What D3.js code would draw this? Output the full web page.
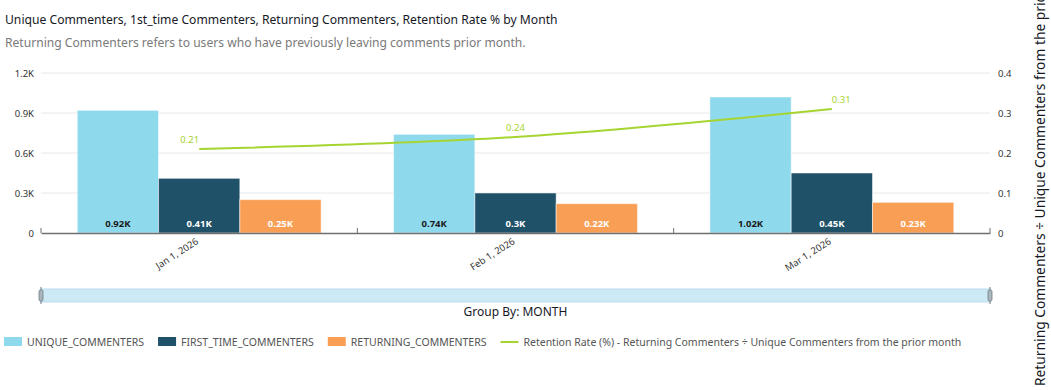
<!DOCTYPE html>
<html>
<head>
<meta charset="utf-8">
<script src="https://cdn.jsdelivr.net/npm/d3@7"></script>
<style>
  html, body { margin: 0; padding: 0; background: #fff; overflow: hidden; }
  svg { display: block; font-family: "Noto Sans", "Open Sans", sans-serif; }
</style>
</head>
<body>
<svg id="chart" width="1051" height="390"></svg>
<script>
// ---- data ----
const months = ["Jan 1, 2026", "Feb 1, 2026", "Mar 1, 2026"];
const seriesNames = ["UNIQUE_COMMENTERS", "FIRST_TIME_COMMENTERS", "RETURNING_COMMENTERS"];
const uniqueCommenters = [920, 740, 1020];
const firstTimeCommenters = [410, 300, 450];
const returningCommenters = [250, 220, 230];
const retentionRate = [0.21, 0.24, 0.31];
const leftTicks = [0, 300, 600, 900, 1200];
const rightTicks = [0, 0.1, 0.2, 0.3, 0.4];
const lineName = "Retention Rate (%) - Returning Commenters \u00F7 Unique Commenters from the prior month";
const rightAxisTitle = "Returning Commenters \u00F7 Unique Commenters from the prior month";
const title = "Unique Commenters, 1st_time Commenters, Returning Commenters, Retention Rate % by Month";
const subtitle = "Returning Commenters refers to users who have previously leaving comments prior month.";

const barColors = ["#8fd9ed", "#1f5169", "#f99e55"];
const barLabelColors = ["#1a1a1a", "#ffffff", "#ffffff"];
const lineColor = "#a6d531";

const seriesValues = [uniqueCommenters, firstTimeCommenters, returningCommenters];

// ---- layout ----
const svg = d3.select("#chart");
const L = 41, R = 990, T = 73, B = 233;

const x0 = d3.scaleBand().domain(months).range([L, R]).padding(0);
const bw = x0.bandwidth();
const x1 = d3.scaleBand().domain(seriesNames).range([bw * 0.1145, bw * (1 - 0.1145)]).padding(0);
const yL = d3.scaleLinear().domain([0, 1200]).range([B, T]);
const yR = d3.scaleLinear().domain([0, 0.4]).range([B, T]);

// title
svg.append("text").attr("x", 5).attr("y", 24)
  .attr("font-size", 12.15).attr("fill", "#16191f").text(title);
svg.append("text").attr("x", 5).attr("y", 47)
  .attr("font-size", 12.1).attr("fill", "#7a7a7a").text(subtitle);

// gridlines
svg.append("g").selectAll("line").data(leftTicks.slice(1)).join("line")
  .attr("x1", L).attr("x2", R)
  .attr("y1", d => yL(d)).attr("y2", d => yL(d))
  .attr("stroke", "#e8e8e8").attr("stroke-width", 1);

// left axis
const fmtK = d => d === 0 ? "0" : (d / 1000).toFixed(1) + "K";
const gL = svg.append("g").attr("transform", `translate(${L},0)`)
  .call(d3.axisLeft(yL).tickValues(leftTicks).tickFormat(fmtK).tickSize(0).tickPadding(7));
gL.select(".domain").remove();
gL.selectAll("text").attr("font-size", 9.5).attr("fill", "#333").attr("font-family", "Noto Sans, sans-serif");

// right axis
const gR = svg.append("g").attr("transform", `translate(${R},0)`)
  .call(d3.axisRight(yR).tickValues(rightTicks).tickFormat(d => d === 0 ? "0" : d3.format(".1f")(d)).tickSize(0).tickPadding(8));
gR.select(".domain").remove();
gR.selectAll("text").attr("font-size", 9.5).attr("fill", "#333").attr("font-family", "Noto Sans, sans-serif");

// bars
const groups = svg.append("g").selectAll("g").data(months).join("g")
  .attr("transform", d => `translate(${x0(d)},0)`);
groups.each(function(m, i) {
  const g = d3.select(this);
  seriesNames.forEach((s, j) => {
    const v = seriesValues[j][i];
    g.append("rect")
      .attr("x", x1(s)).attr("width", x1.bandwidth())
      .attr("y", yL(v)).attr("height", B - yL(v))
      .attr("fill", barColors[j])
      .attr("stroke", "rgba(255,255,255,0.5)").attr("stroke-width", 1);
    g.append("text")
      .attr("x", x1(s) + x1.bandwidth() / 2).attr("y", B - 6)
      .attr("text-anchor", "middle").attr("font-size", 9.5).attr("font-weight", "bold")
      .attr("fill", barLabelColors[j])
      .text((v / 1000).toFixed(2).replace(/0$/, "") + "K");
  });
});

// x axis baseline and ticks
const gX = svg.append("g").attr("transform", `translate(0,${B})`)
  .call(d3.axisBottom(x0).tickSize(0).tickFormat(""));
gX.select(".domain").attr("stroke", "#6f6f6f").attr("stroke-width", 1.5);
const boundaries = months.map(m => x0(m)).concat([R]);
svg.append("g").selectAll("line").data(boundaries).join("line")
  .attr("x1", d => d).attr("x2", d => d).attr("y1", B - 5).attr("y2", B)
  .attr("stroke", "#6f6f6f").attr("stroke-width", 1);
// x labels rotated
svg.append("g").selectAll("text").data(months).join("text")
  .attr("transform", d => `translate(${x0(d) + bw / 2},${B + 10}) rotate(-33)`)
  .attr("text-anchor", "end").attr("font-size", 9.5).attr("fill", "#333")
  .text(d => d);

// line
const cx = m => x0(m) + bw / 2;
const line = d3.line().x((d, i) => cx(months[i])).y(d => yR(d)).curve(d3.curveMonotoneX);
svg.append("path").datum(retentionRate).attr("d", line)
  .attr("fill", "none").attr("stroke", lineColor).attr("stroke-width", 2);
const anchors = ["end", "middle", "start"];
svg.append("g").selectAll("text").data(retentionRate).join("text")
  .attr("x", (d, i) => cx(months[i]))
  .attr("y", d => yR(d) - 6)
  .attr("text-anchor", (d, i) => anchors[i])
  .attr("font-size", 9.5).attr("fill", lineColor)
  .text(d => d.toFixed(2));

// scrollbar
svg.append("rect").attr("x", L).attr("y", 289).attr("width", R - L).attr("height", 13)
  .attr("fill", "#cde9f5").attr("stroke", "#b9dcec").attr("stroke-width", 1);
[L, R].forEach(hx => {
  svg.append("line").attr("x1", hx).attr("x2", hx).attr("y1", 287).attr("y2", 304)
    .attr("stroke", "#6f7c84").attr("stroke-width", 1);
  svg.append("rect").attr("x", hx - 2).attr("y", 290).attr("width", 4).attr("height", 11)
    .attr("rx", 1.5).attr("fill", "#a9b6bd").attr("stroke", "#6f7c84").attr("stroke-width", 0.8);
});
svg.append("text").attr("x", (L + R) / 2).attr("y", 316).attr("text-anchor", "middle")
  .attr("font-size", 12).attr("fill", "#16191f").text("Group By: MONTH");

// legend
const legendItems = seriesNames.map((s, j) => ({ name: s, color: barColors[j], type: "rect" }))
  .concat([{ name: lineName, color: lineColor, type: "line" }]);
const lg = svg.append("g").attr("transform", "translate(4,342)");
let lx = 0;
legendItems.forEach(it => {
  const g = lg.append("g").attr("transform", `translate(${lx},0)`);
  if (it.type === "rect") {
    g.append("rect").attr("x", 0).attr("y", -5).attr("width", 18).attr("height", 9).attr("fill", it.color);
  } else {
    g.append("line").attr("x1", 0).attr("x2", 18).attr("y1", 0).attr("y2", 0)
      .attr("stroke", it.color).attr("stroke-width", 2);
  }
  const t = g.append("text").attr("x", 23).attr("y", 4).attr("font-size", 10.5)
    .attr("fill", "#555").text(it.name);
  lx += 23 + t.node().getComputedTextLength() + 14;
});

// right axis title (clipped at the top edge, as in the reference)
svg.append("text")
  .attr("transform", `translate(1045,386) rotate(-90)`)
  .attr("text-anchor", "start").attr("font-size", 13.8).attr("fill", "#16191f")
  .text(rightAxisTitle);
</script>
</body>
</html>
